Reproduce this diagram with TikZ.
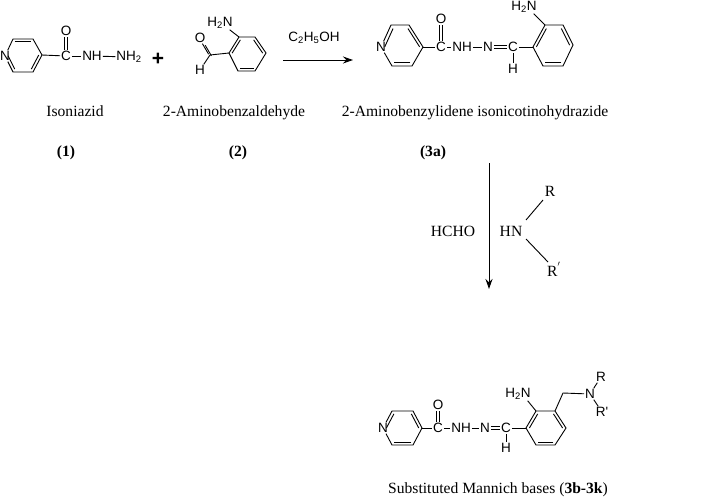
\documentclass[tikz,border=0pt]{standalone}
\usepackage{fontspec}
\setmainfont{Liberation Serif}
\newfontfamily\chemfont{Liberation Sans}
\usetikzlibrary{arrows.meta}
\usetikzlibrary{calc}

\tikzset{
  atom/.style={inner sep=0.6pt, font=\chemfont\fontsize{13.5}{14}\selectfont},
  caption/.style={inner sep=0pt, anchor=base, font=\fontsize{15.6}{16}\selectfont},
  rxnarrow/.style={line width=1pt, -{Stealth[length=10pt,width=7pt]}},
}
% inner line of a double bond in a ring, a b = ends, m = middle of the ring
\newcommand{\innerbond}[3]{\draw ($(#1)!0.17!(#3)$) -- ($(#2)!0.17!(#3)$);}

\begin{document}
\begin{tikzpicture}[x=1pt, y=-1pt, line width=0.9pt]
\useasboundingbox (0,0) rectangle (709,496);

% isoniazid
\node[atom] (Na) at (5,56) {N};
\coordinate (a1) at (13,39);
\coordinate (a2) at (33,39);
\coordinate (a3) at (42,55);
\coordinate (a4) at (33,72);
\coordinate (a5) at (13,72);
\coordinate (am) at (23,55);
\draw (Na) -- (a1) -- (a2) -- (a3) -- (a4) -- (a5) -- (Na);
\innerbond{Na}{a5}{am}
\innerbond{a1}{a2}{am}
\innerbond{a3}{a4}{am}
\node[atom] (Ca) at (66,56) {C};
\node[atom] (Oa) at (66,31) {O};
\node[atom] (NHa) at (92,56) {NH};
\node[atom] (NHb) at (129,57) {NH\textsubscript{2}};
\draw (a3) -- (Ca);
\draw ([xshift=-1.8pt]Ca.north) -- ([xshift=-1.8pt]Oa.south);
\draw ([xshift=1.8pt]Ca.north) -- ([xshift=1.8pt]Oa.south);
\draw (Ca) -- (NHa);
\draw (NHa) -- (NHb);
\node[font=\chemfont\bfseries\fontsize{21}{21}\selectfont, inner sep=0pt] (plus) at (158,59) {+};

% aminobenzaldehyde
\coordinate (b1) at (239,37);
\coordinate (b2) at (255,37);
\coordinate (b3) at (266,53);
\coordinate (b4) at (255,71);
\coordinate (b5) at (238,71);
\coordinate (b6) at (229,53);
\coordinate (bm) at (247,54);
\draw (b1) -- (b2) -- (b3) -- (b4) -- (b5) -- (b6) -- cycle;
\innerbond{b1}{b6}{bm}
\innerbond{b2}{b3}{bm}
\innerbond{b4}{b5}{bm}
\node[atom] (Nc) at (220,23) {H\textsubscript{2}N};
\draw (Nc.-35) -- (b1);
\coordinate (Cb) at (210,55);
\node[atom] (Ob) at (200,38) {O};
\node[atom] (Hb) at (200,70) {H};
\draw (b6) -- (Cb);
\draw (Cb) -- (Hb);
\draw ([xshift=1.4pt,yshift=-0.8pt]Cb) -- ([xshift=1.4pt,yshift=-0.8pt]$(Cb)!0.62!(Ob)$);
\draw ([xshift=-1.4pt,yshift=0.8pt]Cb) -- ([xshift=-1.4pt,yshift=0.8pt]$(Cb)!0.62!(Ob)$);

% reagent arrow
\coordinate (r1) at (283,60);
\coordinate (r2) at (353,60);
\draw[rxnarrow] (r1) -- (r2);
\node[atom] (etoh) at (314,38) {C\textsubscript{2}H\textsubscript{5}OH};

% hydrazide 3a
\node[atom] (Nd) at (381,47) {N};
\coordinate (d1) at (391,25);
\coordinate (d2) at (409,25);
\coordinate (d3) at (423,47);
\coordinate (d4) at (412,66);
\coordinate (d5) at (392,66);
\coordinate (dm) at (403,46);
\draw (Nd) -- (d1) -- (d2) -- (d3) -- (d4) -- (d5) -- (Nd);
\innerbond{Nd}{d1}{dm}
\innerbond{d2}{d3}{dm}
\innerbond{d4}{d5}{dm}
\node[atom] (Cd) at (441,47) {C};
\node[atom] (Od) at (441,19) {O};
\node[atom] (NHd) at (462,47) {NH};
\node[atom] (Ne) at (488,47) {N};
\node[atom] (Ce) at (513,47) {C};
\node[atom] (He) at (513,69) {H};
\draw (d3) -- (Cd);
\draw ([xshift=-1.8pt]Cd.north) -- ([xshift=-1.8pt]Od.south);
\draw ([xshift=1.8pt]Cd.north) -- ([xshift=1.8pt]Od.south);
\draw (Cd) -- (NHd);
\draw (NHd) -- (Ne);
\draw ([yshift=-1.5pt]Ne.east) -- ([yshift=-1.5pt]Ce.west);
\draw ([yshift=1.5pt]Ne.east) -- ([yshift=1.5pt]Ce.west);
\draw (Ce) -- (He);
\coordinate (e1) at (533,47);
\coordinate (e2) at (545,25);
\coordinate (e3) at (563,25);
\coordinate (e4) at (573,45);
\coordinate (e5) at (563,66);
\coordinate (e6) at (543,66);
\coordinate (em) at (553,46);
\draw (e1) -- (e2) -- (e3) -- (e4) -- (e5) -- (e6) -- cycle;
\innerbond{e1}{e2}{em}
\innerbond{e3}{e4}{em}
\innerbond{e5}{e6}{em}
\draw (Ce) -- (e1);
\node[atom] (Nf) at (524,7) {H\textsubscript{2}N};
\draw (Nf.-35) -- (e2);

% captions of the top row
\node[caption] (capa) at (75,116) {Isoniazid};
\node[caption] (capb) at (234,116) {2-Aminobenzaldehyde};
\node[caption] (capc) at (475,116) {2-Aminobenzylidene isonicotinohydrazide};
\node[caption] (numa) at (66,156) {\textbf{(1)}};
\node[caption] (numb) at (238,156) {\textbf{(2)}};
\node[caption] (numc) at (433,156) {\textbf{(3a)}};

% second step
\coordinate (s1) at (489,163);
\coordinate (s2) at (489,289);
\draw[rxnarrow] (s1) -- (s2);
\node[caption] (hcho) at (453,236) {HCHO};
\node[caption] (hn) at (511,236) {HN};
\node[caption] (ra) at (550,196) {R};
\node[caption] (rb) at (554,276) {R$^{'}$};
\coordinate (h1) at (526,220);
\coordinate (h2) at (543,200);
\coordinate (h3) at (526,239);
\coordinate (h4) at (548,262);
\draw (h1) -- (h2);
\draw (h3) -- (h4);

% mannich base
\node[atom] (Ng) at (383,428) {N};
\coordinate (g1) at (392,411);
\coordinate (g2) at (413,411);
\coordinate (g3) at (422,428);
\coordinate (g4) at (413,445);
\coordinate (g5) at (392,445);
\coordinate (gm) at (403,428);
\draw (Ng) -- (g1) -- (g2) -- (g3) -- (g4) -- (g5) -- (Ng);
\innerbond{Ng}{g1}{gm}
\innerbond{g2}{g3}{gm}
\innerbond{g4}{g5}{gm}
\node[atom] (Cg) at (438,428) {C};
\node[atom] (Og) at (438,405) {O};
\node[atom] (NHg) at (461,428) {NH};
\node[atom] (Nh) at (485,428) {N};
\node[atom] (Ch) at (506,428) {C};
\node[atom] (Hh) at (506,448) {H};
\draw (g3) -- (Cg);
\draw ([xshift=-1.8pt]Cg.north) -- ([xshift=-1.8pt]Og.south);
\draw ([xshift=1.8pt]Cg.north) -- ([xshift=1.8pt]Og.south);
\draw (Cg) -- (NHg);
\draw (NHg) -- (Nh);
\draw ([yshift=-1.5pt]Nh.east) -- ([yshift=-1.5pt]Ch.west);
\draw ([yshift=1.5pt]Nh.east) -- ([yshift=1.5pt]Ch.west);
\draw (Ch) -- (Hh);
\coordinate (i1) at (526,428);
\coordinate (i2) at (536,411);
\coordinate (i3) at (555,411);
\coordinate (i4) at (566,428);
\coordinate (i5) at (555,445);
\coordinate (i6) at (536,445);
\coordinate (im) at (546,428);
\draw (i1) -- (i2) -- (i3) -- (i4) -- (i5) -- (i6) -- cycle;
\innerbond{i1}{i2}{im}
\innerbond{i3}{i4}{im}
\innerbond{i5}{i6}{im}
\draw (Ch) -- (i1);
\node[atom] (Nj) at (518,394) {H\textsubscript{2}N};
\draw (Nj.-35) -- (i2);
\coordinate (ch2) at (563,393);
\node[atom] (Nk) at (590,394) {N};
\node[atom] (Ra) at (601,377) {R};
\node[atom] (Rb) at (602,412) {R'};
\draw (i3) -- (ch2) -- (Nk);
\draw (Nk) -- (Ra);
\draw (Nk) -- (Rb);
\node[caption] (capd) at (498,493) {Substituted Mannich bases (\textbf{3b-3k})};
\end{tikzpicture}
\end{document}
